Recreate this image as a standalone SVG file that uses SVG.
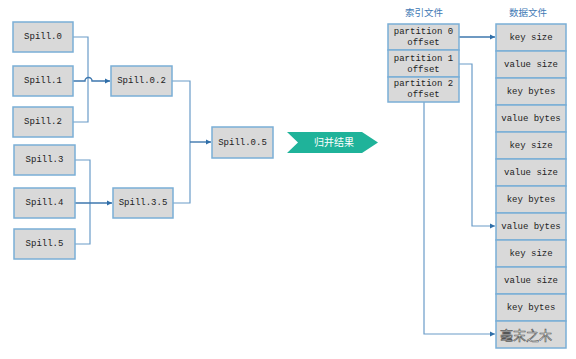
<svg xmlns="http://www.w3.org/2000/svg" width="576" height="359" viewBox="0 0 576 359">
<style>
.box{fill:#D9D9D9;stroke:#7AAED6;stroke-width:1.5}
.t{font-family:"Liberation Mono","DejaVu Sans Mono",monospace;font-size:9px;fill:#222;text-anchor:middle;dominant-baseline:central}
.c{fill:none;stroke:#6A9CC8;stroke-width:1.2}
.a{fill:none;stroke:#3E77AE;stroke-width:1.4}
.h{font-family:"Noto Sans CJK SC",sans-serif;font-size:9.5px;fill:#3F7AB5;text-anchor:middle}
</style>
<defs>
<marker id="ar" markerWidth="6" markerHeight="6" refX="5" refY="3" orient="auto" markerUnits="userSpaceOnUse">
<path d="M0,0.5 L5,3 L0,5.5 Z" fill="#2F6EA8"/>
</marker>
</defs>
<rect width="576" height="359" fill="#fff"/>
<g id="connectors">
<path class="c" d="M73,37 H88 V122 H73"/>
<path class="a" d="M73,81 H85 A3.5,3.5 0 0 1 92,81 H110" marker-end="url(#ar)"/>
<path class="c" d="M75,160 H90 V244 H75"/>
<path class="a" d="M75,203 H112" marker-end="url(#ar)"/>
<path class="c" d="M172,81 H190 V203 H173"/>
<path class="a" d="M190,142 H211" marker-end="url(#ar)"/>
<path class="a" d="M459,37 H495" marker-end="url(#ar)"/>
<path class="c" d="M459,64 H472 V226 H495" marker-end="url(#ar)"/>
<path class="c" d="M424,102 V334 H495" marker-end="url(#ar)"/>
</g>
<g id="spill0"><rect class="box" x="13" y="22" width="60" height="30"/><text class="t" x="43" y="37">Spill.0</text></g>
<g id="spill1"><rect class="box" x="13" y="66" width="60" height="30"/><text class="t" x="43" y="81">Spill.1</text></g>
<g id="spill2"><rect class="box" x="13" y="107" width="60" height="30"/><text class="t" x="43" y="122">Spill.2</text></g>
<g id="spill3"><rect class="box" x="14" y="145" width="61" height="30"/><text class="t" x="44.5" y="160">Spill.3</text></g>
<g id="spill4"><rect class="box" x="14" y="188" width="61" height="30"/><text class="t" x="44.5" y="203">Spill.4</text></g>
<g id="spill5"><rect class="box" x="14" y="229" width="61" height="30"/><text class="t" x="44.5" y="244">Spill.5</text></g>
<g id="spill02"><rect class="box" x="111" y="66" width="61" height="30"/><text class="t" x="141.5" y="81">Spill.0.2</text></g>
<g id="spill35"><rect class="box" x="113" y="188" width="60" height="30"/><text class="t" x="143" y="203">Spill.3.5</text></g>
<g id="spill05"><rect class="box" x="212" y="127" width="61" height="31"/><text class="t" x="242.5" y="142.5">Spill.0.5</text></g>
<g id="merge">
<path d="M287,132 H362 L378,142.5 L362,153 H287 L298,142.5 Z" fill="#1FB39A"/>
<text x="334" y="146" font-family="'Noto Sans CJK SC',sans-serif" font-size="10px" fill="#fff" text-anchor="middle">归并结果</text>
</g>
<g id="index">
<text class="h" x="424" y="16">索引文件</text>
<rect class="box" x="388" y="24" width="71" height="26"/>
<text class="t" x="423.5" y="32">partition 0</text><text class="t" x="423.5" y="43">offset</text>
<rect class="box" x="388" y="50" width="71" height="27"/>
<text class="t" x="423.5" y="59">partition 1</text><text class="t" x="423.5" y="70">offset</text>
<rect class="box" x="388" y="77" width="71" height="25"/>
<text class="t" x="423.5" y="84">partition 2</text><text class="t" x="423.5" y="95">offset</text>
</g>
<g id="data">
<text class="h" x="528" y="16">数据文件</text>
<rect class="box" x="496" y="24" width="70" height="27"/><text class="t" x="531" y="37.5">key size</text>
<rect class="box" x="496" y="51" width="70" height="27"/><text class="t" x="531" y="64.5">value size</text>
<rect class="box" x="496" y="78" width="70" height="27"/><text class="t" x="531" y="91.5">key bytes</text>
<rect class="box" x="496" y="105" width="70" height="27"/><text class="t" x="531" y="118.5">value bytes</text>
<rect class="box" x="496" y="132" width="70" height="27"/><text class="t" x="531" y="145.5">key size</text>
<rect class="box" x="496" y="159" width="70" height="27"/><text class="t" x="531" y="172.5">value size</text>
<rect class="box" x="496" y="186" width="70" height="27"/><text class="t" x="531" y="199.5">key bytes</text>
<rect class="box" x="496" y="213" width="70" height="27"/><text class="t" x="531" y="226.5">value bytes</text>
<rect class="box" x="496" y="240" width="70" height="27"/><text class="t" x="531" y="253.5">key size</text>
<rect class="box" x="496" y="267" width="70" height="27"/><text class="t" x="531" y="280.5">value size</text>
<rect class="box" x="496" y="294" width="70" height="27"/><text class="t" x="531" y="307.5">key bytes</text>
<rect class="box" x="496" y="321" width="70" height="27"/>
</g>
<g id="watermark">
<text x="526" y="340" font-family="'Noto Sans CJK SC',sans-serif" font-size="13px" fill="#fff" stroke="#555" stroke-width="0.6" text-anchor="middle">毫末之木</text>
</g>
</svg>
